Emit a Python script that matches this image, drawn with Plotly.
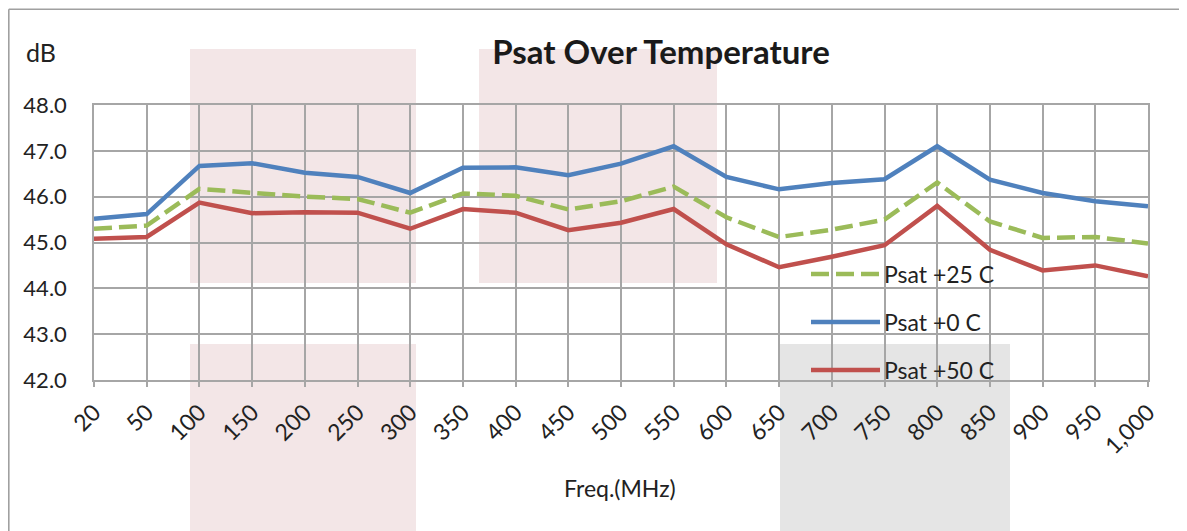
import plotly.graph_objects as go

# ---- data ----
freq_labels = ["20", "50", "100", "150", "200", "250", "300", "350", "400", "450", "500",
               "550", "600", "650", "700", "750", "800", "850", "900", "950", "1,000"]
psat_25 = [45.30, 45.37, 46.17, 46.08, 46.00, 45.95, 45.65, 46.07, 46.02, 45.72, 45.90,
           46.22, 45.55, 45.12, 45.28, 45.50, 46.31, 45.46, 45.10, 45.12, 44.98]
psat_0 = [45.52, 45.62, 46.67, 46.73, 46.52, 46.43, 46.08, 46.63, 46.64, 46.47, 46.72,
          47.10, 46.43, 46.16, 46.30, 46.38, 47.10, 46.37, 46.08, 45.90, 45.79]
psat_50 = [45.08, 45.12, 45.87, 45.64, 45.66, 45.65, 45.30, 45.73, 45.65, 45.27, 45.43,
           45.73, 44.96, 44.46, 44.69, 44.94, 45.80, 44.84, 44.39, 44.50, 44.26]
y_ticks = [42, 43, 44, 45, 46, 47, 48]

series_names = ["Psat +25 C", "Psat +0 C", "Psat +50 C"]
series_values = [psat_25, psat_0, psat_50]
series_colors = ["#9BBB59", "#4F81BD", "#C0504D"]
series_dash = ["18px,7px", "solid", "solid"]

# ---- layout geometry (screen pixels; page body has an 8px margin) ----
OFF = 8
W, H = 1187 - OFF, 531 - OFF
PL, PR, PT, PB = 94, 1148, 105, 380     # plot area on screen
FONT = "Lato, 'Open Sans', sans-serif"
GRID = "#A6A6A6"
TXT = "#222222"


def px_x(px):
    return (px - PL) / (PR - PL)


def px_y(py):
    return (PB - py) / (PB - PT)


fig = go.Figure()
for name, vals, col, dash in zip(series_names, series_values, series_colors, series_dash):
    fig.add_trace(go.Scatter(x=freq_labels, y=vals, mode="lines", name=name,
                             line=dict(color=col, width=4.5, dash=dash),
                             showlegend=False))

shapes = []
# decorative background rectangles
for (x0, x1, y0, y1, c) in [(190, 416, 49, 283, "#F3E6E7"), (190, 416, 344, 560, "#F3E6E7"),
                            (479, 717, 49, 283, "#F3E6E7"), (780, 1010, 344, 560, "#E5E5E5")]:
    shapes.append(dict(type="rect", xref="paper", yref="paper", layer="below",
                       x0=px_x(x0), x1=px_x(x1), y0=px_y(y1), y1=px_y(y0),
                       fillcolor=c, line=dict(width=0)))
# outer frame
shapes.append(dict(type="line", xref="paper", yref="paper", layer="above",
                   x0=px_x(OFF + 0.8), x1=px_x(1200), y0=px_y(9.2), y1=px_y(9.2),
                   line=dict(color="#A0A0A0", width=1.5)))
shapes.append(dict(type="line", xref="paper", yref="paper", layer="above",
                   x0=px_x(OFF + 0.8), x1=px_x(OFF + 0.8), y0=px_y(9.2), y1=px_y(560),
                   line=dict(color="#A0A0A0", width=1.6)))

annotations = []
# manual legend
legend_rows = [274, 322, 370]
for name, col, dash, ry in zip(series_names, series_colors, series_dash, legend_rows):
    shapes.append(dict(type="line", xref="paper", yref="paper", layer="above",
                       x0=px_x(811), x1=px_x(880), y0=px_y(ry), y1=px_y(ry),
                       line=dict(color=col, width=4.5, dash=dash)))
    annotations.append(dict(text=name, xref="paper", yref="paper", x=px_x(882), y=px_y(ry),
                            xanchor="left", yanchor="middle", showarrow=False,
                            font=dict(family=FONT, size=23, color=TXT)))

annotations.append(dict(text="dB", xref="paper", yref="paper", x=px_x(41), y=px_y(52),
                        xanchor="center", yanchor="middle", showarrow=False,
                        font=dict(family=FONT, size=25, color=TXT)))
annotations.append(dict(text="Freq.(MHz)", xref="paper", yref="paper", x=px_x(620), y=px_y(488),
                        xanchor="center", yanchor="middle", showarrow=False,
                        font=dict(family=FONT, size=23, color=TXT)))

fig.update_layout(
    width=W, height=H,
    margin=dict(l=PL - OFF, r=W - (PR - OFF), t=PT - OFF, b=H - (PB - OFF), pad=0,
                autoexpand=False),
    paper_bgcolor="white", plot_bgcolor="rgba(0,0,0,0)",
    title=dict(text="<b>Psat Over Temperature</b>", x=px_x(661), xref="paper",
               xanchor="center", y=1 - (52 - OFF) / H, yanchor="middle",
               font=dict(family=FONT, size=33, color="#1A1A1A")),
    shapes=shapes, annotations=annotations, showlegend=False,
)
fig.update_xaxes(type="category", range=[0, len(freq_labels) - 1], automargin=False,
                 showgrid=True, gridcolor=GRID, gridwidth=1.5,
                 showline=True, linecolor=GRID, linewidth=1.5, mirror=True,
                 ticks="outside", ticklen=5, tickcolor=GRID, tickwidth=1.5,
                 ticklabelstandoff=3,
                 tickangle=-45, tickfont=dict(family=FONT, size=23, color=TXT))
fig.update_yaxes(range=[42, 48], tickvals=y_ticks, tickformat=".1f", automargin=False,
                 showgrid=True, gridcolor=GRID, gridwidth=1.5,
                 showline=True, linecolor=GRID, linewidth=1.5, mirror=True,
                 ticks="", ticklabelstandoff=21, zeroline=False,
                 tickfont=dict(family=FONT, size=22, color=TXT))

fig.write_html("out.html")
